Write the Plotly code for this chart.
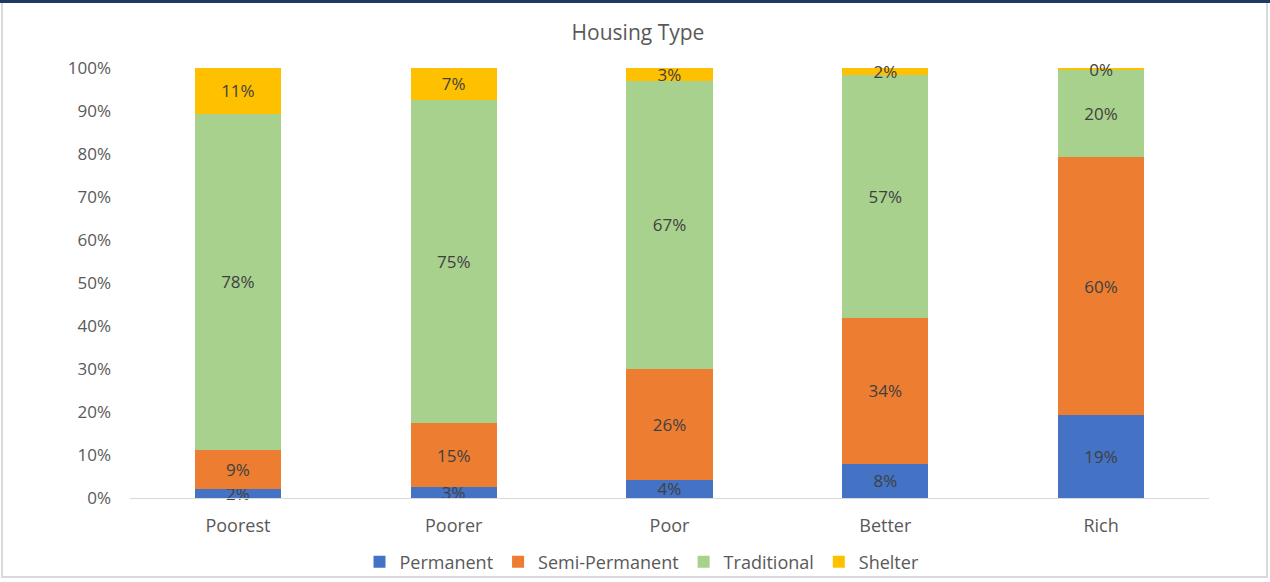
import plotly.graph_objects as go

categories = ["Poorest", "Poorer", "Poor", "Better", "Rich"]
permanent = [2.1, 2.6, 4.2, 8.0, 19.3]
semi_permanent = [9.0, 14.8, 25.8, 33.8, 60.0]
traditional = [78.3, 75.2, 67.0, 56.6, 20.4]
shelter = [10.6, 7.4, 3.0, 1.6, 0.3]
y_ticks = [0, 10, 20, 30, 40, 50, 60, 70, 80, 90, 100]
y_tick_labels = [f"{v}%" for v in y_ticks]

series = [
    ("Permanent", permanent, "#4472C4"),
    ("Semi-Permanent", semi_permanent, "#ED7D31"),
    ("Traditional", traditional, "#A9D18E"),
    ("Shelter", shelter, "#FFC000"),
]

FONT = "'Open Sans', sans-serif"
fig = go.Figure()
for name, vals, color in series:
    fig.add_trace(go.Bar(
        name=name, x=categories, y=vals,
        marker=dict(color=color, line=dict(width=0)),
        text=[f"{round(v)}%" for v in vals],
        texttemplate="%{text}", textposition="inside",
        insidetextanchor="middle", constraintext="none",
        textfont=dict(color="#404040", size=17, family=FONT),
        cliponaxis=False,
    ))

W, H = 1270, 582
L, R, T, B = 130, 61, 68, 84
pw, ph = W - L - R, H - T - B

def px(x):
    return (x - L) / pw

def py(y):
    return (H - B - y) / ph

fig.update_layout(
    width=W, height=H,
    barmode="stack", bargap=0.6,
    margin=dict(l=L, r=R, t=T, b=B, autoexpand=False),
    paper_bgcolor="white", plot_bgcolor="white",
    font=dict(family=FONT, color="#595959", size=17),
    title=dict(text="Housing Type", x=638 / W, xanchor="center", xref="container",
               yref="container", y=1 - 33 / H, yanchor="middle",
               font=dict(size=21, color="#595959", family=FONT)),
    uniformtext=dict(minsize=17, mode="show"),
    legend=dict(orientation="h", xref="container", x=642 / W, xanchor="center",
                y=py(562), yanchor="middle",
                font=dict(size=18, color="#595959", family=FONT), itemwidth=30,
                bgcolor="rgba(0,0,0,0)", traceorder="normal"),
    xaxis=dict(showline=True, linecolor="#D9D9D9", linewidth=1, ticks="", showgrid=False,
               ticklabelstandoff=11, tickfont=dict(size=18)),
    yaxis=dict(range=[0, 100.01], tickvals=y_ticks, ticktext=y_tick_labels, showgrid=False,
               zeroline=False, showline=False, ticks="", ticklabelstandoff=18,
               tickfont=dict(size=17)),
    shapes=[
        dict(type="rect", xref="paper", yref="paper",
             x0=px(2), x1=px(1267), y0=py(577), y1=py(1),
             line=dict(color="#D9D9D9", width=2), layer="below"),
        dict(type="line", xref="paper", yref="paper",
             x0=px(0), x1=px(1270), y0=py(1.5), y1=py(1.5),
             line=dict(color="#1F3864", width=3)),
    ],
)

fig.write_html("out.html", config={"displayModeBar": False},
               post_script="document.body.style.margin='0';")
